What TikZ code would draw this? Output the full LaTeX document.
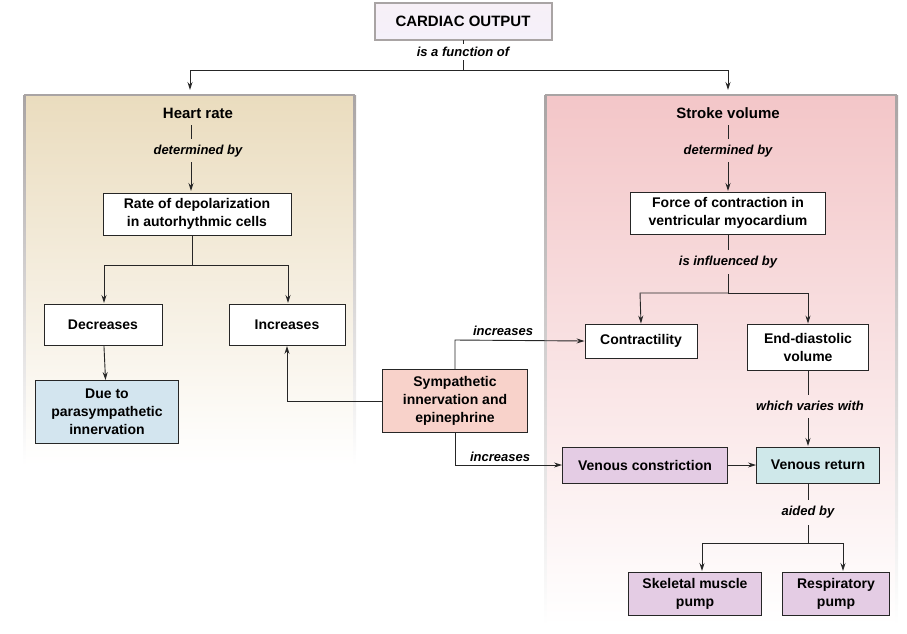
\documentclass[tikz,border=0pt]{standalone}
\usepackage{fontspec}
\setmainfont{Liberation Sans}
\usetikzlibrary{arrows.meta}
\definecolor{lav}{HTML}{E4CCE4}
\definecolor{blu}{HTML}{D3E5EF}
\definecolor{sal}{HTML}{F8D2CA}
\definecolor{teal}{HTML}{CFE8EA}
\definecolor{tan}{HTML}{EADCBE}
\definecolor{pnk}{HTML}{F3C6C8}
\definecolor{bord}{HTML}{A9A4A4}
\begin{document}
\begin{tikzpicture}[x=1pt,y=-1pt,
  box/.style={draw=black!85,line width=0.9pt,fill=white,align=center,inner sep=2pt,font=\fontsize{14}{18}\selectfont\bfseries},
  lab/.style={font=\fontsize{13}{15}\selectfont\bfseries\itshape,fill=none},
  ttl/.style={font=\fontsize{15}{18}\selectfont\bfseries},
  ln/.style={line width=0.9pt,black!85},
  ar/.style={ln,-{Stealth[length=8pt,width=5pt]}}]
\useasboundingbox (0,0) rectangle (907,633);
% panels
\shade[top color=tan,bottom color=white] (24,95) rectangle (355,465);
\shade[top color=pnk,bottom color=white] (545,95) rectangle (897,625);
\draw[bord,line width=2pt] (24,95) -- (355,95);
\draw[bord,line width=2pt] (545,95) -- (897,95);
\shade[top color=bord,bottom color=white] (23,95) rectangle (25.5,465);
\shade[top color=bord,bottom color=white] (353.5,95) rectangle (356,465);
\shade[top color=bord,bottom color=white] (544,95) rectangle (546.5,625);
\shade[top color=bord,bottom color=white] (895.5,95) rectangle (898,625);
% top
\shade[top color=white!70!lav,bottom color=lav!90!blue!20] (375,3) rectangle (552,40);
\draw[bord,line width=2pt] (375,3) rectangle (552,40);
\node[ttl] (co) at (463,21) {CARDIAC OUTPUT};
\node[lab] (fn) at (463,52) {is a function of};
\coordinate (cob) at (463,40);
\draw[ln] (cob) -- (fn.north);
\coordinate (j0) at (463,70);
\coordinate (jl) at (190,70);
\coordinate (jr) at (728,70);
\draw[ln] (fn.south) -- (j0);
\draw[ar] (j0) -- (jl) -- (190,90);
\draw[ar] (j0) -- (jr) -- (728,90);
% left
\node[ttl] (hr) at (198,113) {Heart rate};
\node[lab] (db1) at (198,151) {determined by};
\draw[ln] (191,125) -- (191,139);
\draw[ar] (191,162) -- (191,191);
\node[box,minimum width=188pt,minimum height=42pt] (rate) at (197,214) {Rate of depolarization\\in autorhythmic cells};
\coordinate (rj) at (192,265);
\draw[ln] (rate.south -| rj) -- (rj);
\draw[ar] (rj) -- (104,265) -- (104,303);
\draw[ar] (rj) -- (288,265) -- (288,303);
\node[box,minimum width=118pt,minimum height=41pt] (dec) at (103,325) {Decreases};
\node[box,minimum width=116pt,minimum height=41pt] (inc) at (287,325) {Increases};
\node[box,fill=blu,minimum width=143pt,minimum height=63pt] (due) at (107,412) {Due to\\parasympathetic\\innervation};
\draw[ar] (dec) -- (due);
% center
\node[box,fill=sal,minimum width=145pt,minimum height=63pt] (sym) at (455,401) {Sympathetic\\innervation and\\epinephrine};
\draw[ar] (sym.west) -- (287,401) -- (inc.south);
% right
\node[ttl] (sv) at (728,113) {Stroke volume};
\node[lab] (db2) at (728,151) {determined by};
\draw[ln] (728,125) -- (728,139);
\draw[ar] (728,162) -- (728,191);
\node[box,minimum width=195pt,minimum height=42pt] (force) at (728,213) {Force of contraction in\\ventricular myocardium};
\node[lab] (inf) at (728,262) {is influenced by};
\draw[ln] (force.south) -- (728,250);
\coordinate (fj) at (728,293);
\draw[ln] (728,274) -- (fj);
\node[box,minimum width=112pt,minimum height=34pt] (con) at (641,341) {Contractility};
\node[box,minimum width=121pt,minimum height=46pt] (edv) at (808,347) {End-diastolic\\volume};
\draw[ar] (fj) -- (640,293) -- (con.north);
\draw[ar] (fj) -- (808,293) -- (edv.north);
\draw[ar] (sym.north) -- (455,340) -- (con.west);
\node[lab] (i1) at (503,331) {increases};
\node[lab] (wv) at (810,406) {which varies with};
\node[box,fill=teal,minimum width=123pt,minimum height=36pt] (vr) at (818,465) {Venous return};
\draw[ln] (edv.south) -- (808,395);
\draw[ar] (808,418) -- (808,446);
\node[box,fill=lav,minimum width=165pt,minimum height=36pt] (vc) at (645,465) {Venous constriction};
\draw[ar] (vc) -- (vr);
\draw[ar] (sym.south) -- (455,465) -- (vc.west);
\node[lab] (i2) at (500,457) {increases};
\node[lab] (ab) at (808,512) {aided by};
\draw[ln] (808,483) -- (808,500);
\coordinate (aj) at (808,543);
\draw[ln] (808,525) -- (aj);
\node[box,fill=lav,minimum width=133pt,minimum height=43pt] (sk) at (695,594) {Skeletal muscle\\pump};
\node[box,fill=lav,minimum width=107pt,minimum height=43pt] (rp) at (836,594) {Respiratory\\pump};
\draw[ar] (aj) -- (702,543) -- (702,571);
\draw[ar] (aj) -- (843,543) -- (843,571);
\end{tikzpicture}
\end{document}
